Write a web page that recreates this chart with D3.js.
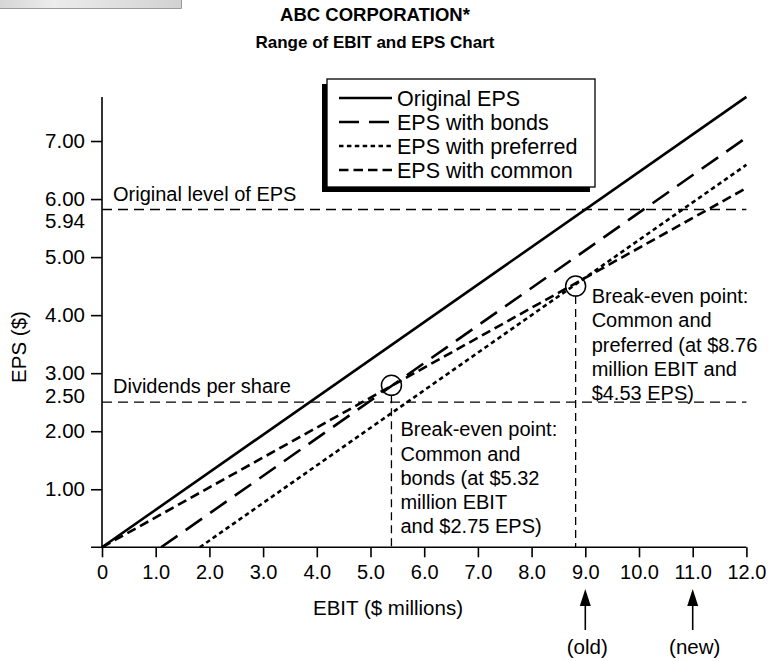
<!DOCTYPE html>
<html>
<head>
<meta charset="utf-8">
<script src="https://cdn.jsdelivr.net/npm/d3@7"></script>
<style>
  body { margin: 0; background: #fff; }
  svg { display: block; font-family: "Liberation Sans", Arial, Helvetica, sans-serif; }
  .axis text { font-size: 20px; fill: #000; }
  .axis line { stroke: #000; stroke-width: 1.6; }
</style>
</head>
<body>
<div id="chart"></div>
<script>
var width = 772, height = 661;

// x axis: EBIT ($ millions)
var ebitTicks = [0, 1, 2, 3, 4, 5, 6, 7, 8, 9, 10, 11, 12];
var ebitTickLabels = ["0", "1.0", "2.0", "3.0", "4.0", "5.0", "6.0", "7.0", "8.0", "9.0", "10.0", "11.0", "12.0"];
// y axis: EPS ($)
var epsTicks = [1, 2, 3, 4, 5, 6, 7];
var epsTickLabels = ["1.00", "2.00", "3.00", "4.00", "5.00", "6.00", "7.00"];

// the four EPS lines: EBIT where EPS is zero, EPS at EBIT 12
var seriesNames = ["Original EPS", "EPS with bonds", "EPS with preferred", "EPS with common"];
var seriesStartEbit = [0, 1.10, 1.82, 0];
var seriesEndEbit = [12, 12, 12, 12];
var seriesEndEps = [7.76, 7.06, 6.59, 6.19];

// horizontal reference lines
var refNames = ["Original level of EPS", "Dividends per share"];
var refEps = [5.82, 2.50];
var refTickLabels = ["5.94", "2.50"];

// break-even points
var breakEbit = [5.39, 8.82];
var breakEps = [2.79, 4.50];
var breakNotes = [
    ["Break-even point:", "Common and", "bonds (at $5.32", "million EBIT", "and $2.75 EPS)"],
    ["Break-even point:", "Common and", "preferred (at $8.76", "million EBIT and", "$4.53 EPS)"]
];

// arrows under the x axis
var markerEbit = [9, 11];
var markerLabels = ["(old)", "(new)"];

var dashes = {
    "Original EPS": null,
    "EPS with bonds": "20,10",
    "EPS with preferred": "4.5,3.4",
    "EPS with common": "9.5,5"
};

var svg = d3.select("#chart")
    .append("svg")
    .attr("width", width)
    .attr("height", height);

// gray strip in the top-left corner
var defs = svg.append("defs");
var grad = defs.append("linearGradient").attr("id", "strip");
grad.append("stop").attr("offset", "0%").attr("stop-color", "#d6d6d6");
grad.append("stop").attr("offset", "30%").attr("stop-color", "#ececec");
grad.append("stop").attr("offset", "100%").attr("stop-color", "#d2d2d2");
svg.append("rect").attr("x", 0).attr("y", 0).attr("width", 181).attr("height", 8).attr("fill", "url(#strip)");
svg.append("path").attr("d", "M0,8.5H181.5V0").attr("fill", "none").attr("stroke", "#9a9a9a").attr("stroke-width", 1);

// titles
svg.append("text")
    .attr("x", 375).attr("y", 21)
    .attr("text-anchor", "middle")
    .style("font-size", "18.5px").style("font-weight", "bold")
    .text("ABC CORPORATION*");
svg.append("text")
    .attr("x", 375).attr("y", 48)
    .attr("text-anchor", "middle")
    .style("font-size", "17px").style("font-weight", "bold")
    .text("Range of EBIT and EPS Chart");

var xScale = d3.scaleLinear()
    .domain([0, 12])
    .range([102, 746.4]);

var yScale = d3.scaleLinear()
    .domain([0, 7.76])
    .range([547.3, 96.9]);

// reference lines
refEps.forEach(function(v, i) {
    svg.append("line")
        .attr("x1", xScale(0)).attr("x2", xScale(12))
        .attr("y1", yScale(v)).attr("y2", yScale(v))
        .attr("stroke", "#000").attr("stroke-width", 1.3)
        .attr("stroke-dasharray", "10,6");
    svg.append("text")
        .attr("x", xScale(0) + 11).attr("y", yScale(v) - 9)
        .style("font-size", "20px")
        .text(refNames[i]);
    svg.append("text")
        .attr("x", 85).attr("y", yScale(v) + (i == 0 ? 18 : 1))
        .attr("text-anchor", "end")
        .style("font-size", "20.5px")
        .text(refTickLabels[i]);
});

// break-even drop lines, circles and notes
breakEbit.forEach(function(e, i) {
    svg.append("line")
        .attr("x1", xScale(e)).attr("x2", xScale(e))
        .attr("y1", yScale(breakEps[i]) + 10).attr("y2", yScale(0))
        .attr("stroke", "#000").attr("stroke-width", 1.3)
        .attr("stroke-dasharray", "8,5");
    svg.append("circle")
        .attr("cx", xScale(e)).attr("cy", yScale(breakEps[i]))
        .attr("r", 10)
        .attr("fill", "none").attr("stroke", "#000").attr("stroke-width", 1.5);
});

var noteX = [9, 16], noteY = [51, 17];
breakNotes.forEach(function(lines, i) {
    var t = svg.append("text")
        .attr("x", xScale(breakEbit[i]) + noteX[i])
        .attr("y", yScale(breakEps[i]) + noteY[i])
        .style("font-size", "20px");
    t.selectAll("tspan").data(lines)
        .join("tspan")
        .attr("x", xScale(breakEbit[i]) + noteX[i])
        .attr("dy", function(d, j) { return j == 0 ? 0 : 24.2; })
        .text(function(d) { return d; });
});

// EPS lines
var line = d3.line()
    .x(function(d) { return xScale(d[0]); })
    .y(function(d) { return yScale(d[1]); });

seriesNames.forEach(function(name, i) {
    svg.append("path")
        .datum([[seriesStartEbit[i], 0], [seriesEndEbit[i], seriesEndEps[i]]])
        .attr("d", line)
        .attr("fill", "none")
        .attr("stroke", "#000")
        .attr("stroke-width", 2.6)
        .attr("stroke-dasharray", dashes[name]);
});

// axes
var xAxis = svg.append("g")
    .attr("class", "axis")
    .attr("transform", "translate(0," + yScale(0) + ")")
    .call(d3.axisBottom(xScale)
        .tickValues(ebitTicks)
        .tickFormat(function(d, i) { return ebitTickLabels[i]; })
        .tickSize(10)
        .tickPadding(8));
xAxis.select(".domain").remove();

var yAxis = svg.append("g")
    .attr("class", "axis")
    .attr("transform", "translate(" + xScale(0) + ",0)")
    .call(d3.axisLeft(yScale)
        .tickValues(epsTicks)
        .tickFormat(function(d, i) { return epsTickLabels[i]; })
        .tickSize(11)
        .tickPadding(6));
yAxis.select(".domain").remove();
yAxis.selectAll(".tick text").style("font-size", "20.5px");

svg.append("line")
    .attr("x1", xScale(0) - 11).attr("x2", xScale(12))
    .attr("y1", yScale(0)).attr("y2", yScale(0))
    .attr("stroke", "#000").attr("stroke-width", 1.6);
svg.append("line")
    .attr("x1", xScale(0)).attr("x2", xScale(0))
    .attr("y1", yScale(0)).attr("y2", yScale(7.76))
    .attr("stroke", "#000").attr("stroke-width", 1.6);

svg.append("text")
    .attr("x", 388).attr("y", 615)
    .attr("text-anchor", "middle")
    .style("font-size", "20.5px")
    .text("EBIT ($ millions)");

svg.append("text")
    .attr("transform", "translate(26,347) rotate(-90)")
    .attr("text-anchor", "middle")
    .style("font-size", "20.5px")
    .text("EPS ($)");

// old / new arrows
markerEbit.forEach(function(e, i) {
    var cx = xScale(e);
    svg.append("line")
        .attr("x1", cx).attr("x2", cx)
        .attr("y1", 604).attr("y2", 630)
        .attr("stroke", "#000").attr("stroke-width", 1.6);
    svg.append("path")
        .attr("d", "M" + cx + ",589L" + (cx - 5.5) + ",606L" + (cx + 5.5) + ",606Z")
        .attr("fill", "#000");
    svg.append("text")
        .attr("x", cx + 2).attr("y", 654)
        .attr("text-anchor", "middle")
        .style("font-size", "20.5px")
        .text(markerLabels[i]);
});

// legend with offset shadow
var lg = svg.append("g").attr("transform", "translate(327,79)");
lg.append("rect")
    .attr("x", -5).attr("y", 5).attr("width", 268).attr("height", 108)
    .attr("fill", "#000");
lg.append("rect")
    .attr("x", 0).attr("y", 0).attr("width", 268).attr("height", 108)
    .attr("fill", "#fff").attr("stroke", "#000").attr("stroke-width", 1.3);

seriesNames.forEach(function(name, i) {
    var yy = 19 + i * 24;
    lg.append("line")
        .attr("x1", 12).attr("x2", 65)
        .attr("y1", yy).attr("y2", yy)
        .attr("stroke", "#000").attr("stroke-width", 2.6)
        .attr("stroke-dasharray", dashes[name]);
    lg.append("text")
        .attr("x", 70).attr("y", yy + 7.5)
        .style("font-size", "21.5px")
        .text(name);
});
</script>
</body>
</html>
